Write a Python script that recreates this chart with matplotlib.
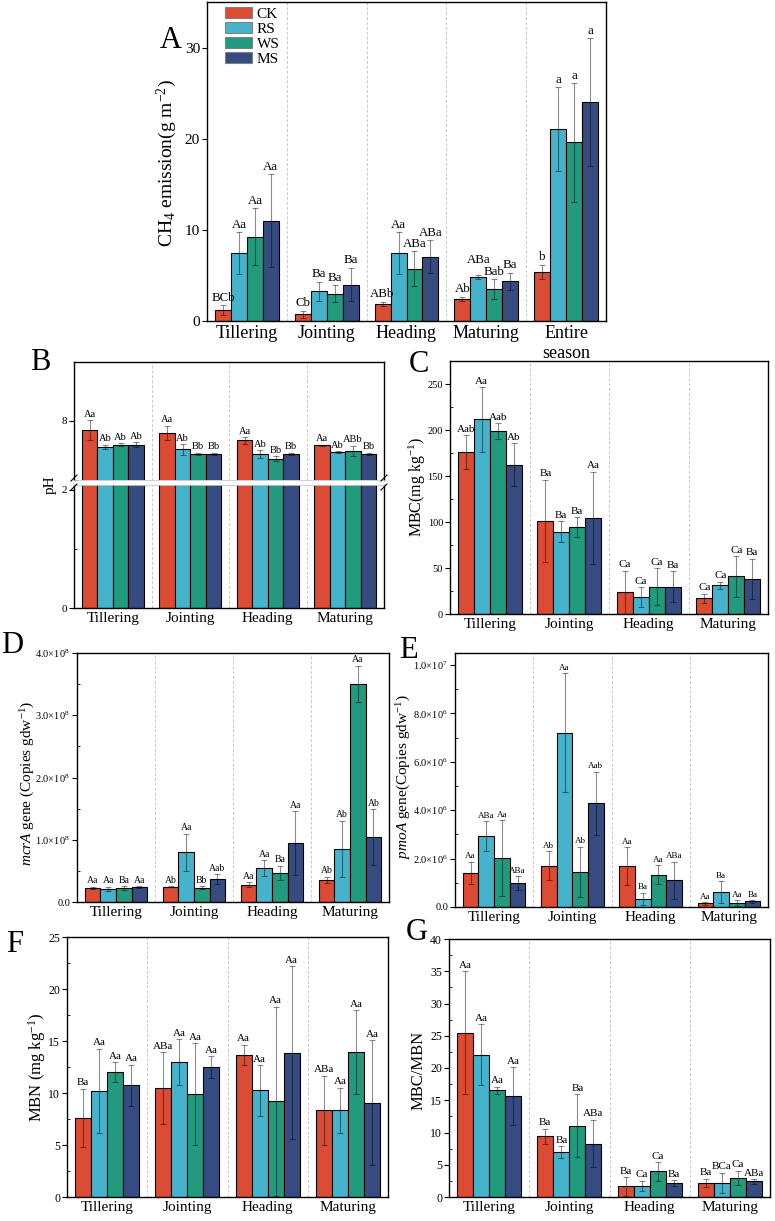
import numpy as np
import matplotlib
matplotlib.use('Agg')
import matplotlib.pyplot as plt
from matplotlib.ticker import FixedLocator, MultipleLocator, FuncFormatter
from matplotlib.patches import Patch

plt.rcParams['font.family'] = ['Liberation Serif', 'DejaVu Serif']
plt.rcParams['mathtext.fontset'] = 'custom'
plt.rcParams['mathtext.rm'] = 'Liberation Serif'
plt.rcParams['mathtext.it'] = 'Liberation Serif:italic'
plt.rcParams['mathtext.bf'] = 'Liberation Serif:bold'

# ---------------- data ----------------
treatments = ['CK', 'RS', 'WS', 'MS']
colors = ['#DC4B33', '#45B3CC', '#219A7E', '#364C80']
stages = ['Tillering', 'Jointing', 'Heading', 'Maturing']
stages_a = stages + ['Entire\nseason']

ch4_mean = [[1.17, 7.45, 9.27, 11.0], [0.73, 3.25, 3.0, 4.0], [1.9, 7.45, 5.73, 7.04],
            [2.41, 4.85, 3.5, 4.34], [5.4, 21.06, 19.6, 24.0]]
ch4_err = [[0.55, 2.3, 3.1, 5.1], [0.38, 1.05, 0.9, 1.85], [0.2, 2.3, 1.9, 1.8],
           [0.24, 0.23, 1.08, 0.95], [0.76, 4.6, 6.5, 7.0]]
ch4_sig = [['BCb', 'Aa', 'Aa', 'Aa'], ['Cb', 'Ba', 'Ba', 'Ba'], ['ABb', 'Aa', 'ABa', 'ABa'],
           ['Ab', 'ABa', 'Bab', 'Ba'], ['b', 'a', 'a', 'a']]

ph_mean = [[7.84, 7.56, 7.60, 7.60], [7.80, 7.52, 7.44, 7.44], [7.67, 7.44, 7.36, 7.44],
           [7.59, 7.47, 7.49, 7.44]]
ph_err = [[0.17, 0.04, 0.02, 0.04], [0.12, 0.09, 0.02, 0.02], [0.06, 0.07, 0.04, 0.02],
          [0.01, 0.02, 0.09, 0.02]]
ph_sig = [['Aa', 'Ab', 'Ab', 'Ab'], ['Aa', 'Ab', 'Bb', 'Bb'], ['Aa', 'Ab', 'Bb', 'Bb'],
          ['Aa', 'Ab', 'ABb', 'Bb']]

mbc_mean = [[175.6, 211.6, 198.7, 162.3], [101.1, 89.6, 94.3, 104.7], [23.7, 18.3, 29.8, 29.8],
            [16.9, 31.3, 41.0, 38.1]]
mbc_err = [[18.5, 35.0, 9.0, 23.6], [45.0, 11.3, 10.7, 50.0], [23.5, 11.0, 20.0, 17.0],
           [5.0, 4.0, 22.0, 22.0]]
mbc_sig = [['Aab', 'Aa', 'Aab', 'Ab'], ['Ba', 'Ba', 'Ba', 'Aa'], ['Ca', 'Ca', 'Ca', 'Ba'],
           ['Ca', 'Ca', 'Ca', 'Ba']]

mcra_mean = [[2.26e7, 2.10e7, 2.26e7, 2.42e7], [2.47e7, 7.97e7, 2.26e7, 3.70e7],
             [2.79e7, 5.40e7, 4.66e7, 9.47e7], [3.54e7, 8.56e7, 3.505e8, 1.043e8]]
mcra_err = [[0.2e7, 0.35e7, 0.3e7, 0.1e7], [0.05e7, 3.0e7, 0.25e7, 0.8e7],
            [0.4e7, 1.3e7, 1.2e7, 5.1e7], [0.55e7, 4.5e7, 2.9e7, 4.5e7]]
mcra_sig = [['Aa', 'Aa', 'Ba', 'Aa'], ['Ab', 'Aa', 'Bb', 'Aab'], ['Aa', 'Aa', 'Ba', 'Aa'],
            ['Ab', 'Ab', 'Aa', 'Ab']]

pmoa_mean = [[1.41e6, 2.93e6, 2.02e6, 1.00e6], [1.70e6, 7.20e6, 1.45e6, 4.28e6],
             [1.70e6, 0.33e6, 1.33e6, 1.10e6], [0.15e6, 0.62e6, 0.15e6, 0.23e6]]
pmoa_err = [[0.47e6, 0.61e6, 1.56e6, 0.28e6], [0.60e6, 2.46e6, 1.05e6, 1.32e6],
            [0.77e6, 0.26e6, 0.39e6, 0.77e6], [0.05e6, 0.44e6, 0.12e6, 0.05e6]]
pmoa_sig = [['Aa', 'ABa', 'Aa', 'ABa'], ['Ab', 'Aa', 'Ab', 'Aab'], ['Aa', 'Ba', 'Aa', 'ABa'],
            ['Aa', 'Ba', 'Aa', 'Ba']]

mbn_mean = [[7.62, 10.22, 12.02, 10.76], [10.48, 12.95, 9.9, 12.47], [13.69, 10.25, 9.19, 13.88],
            [8.32, 8.32, 13.91, 9.06]]
mbn_err = [[2.8, 4.05, 0.95, 1.97], [3.45, 2.2, 4.9, 1.05], [0.97, 2.45, 9.1, 8.3],
           [3.35, 2.2, 4.05, 6.0]]
mbn_sig = [['Ba', 'Aa', 'Aa', 'Aa'], ['ABa', 'Aa', 'Aa', 'Aa'], ['Aa', 'Aa', 'Aa', 'Aa'],
           ['ABa', 'Aa', 'Aa', 'Aa']]

ratio_mean = [[25.5, 22.05, 16.56, 15.63], [9.42, 6.94, 11.08, 8.28], [1.66, 1.76, 3.99, 2.12],
              [2.17, 2.23, 2.95, 2.43]]
ratio_err = [[9.5, 4.7, 0.55, 4.45], [1.2, 0.93, 4.86, 3.68], [1.45, 0.78, 1.45, 0.47],
             [0.68, 1.55, 1.14, 0.37]]
ratio_sig = [['Aa', 'Aa', 'Aa', 'Aa'], ['Ba', 'Ba', 'Ba', 'ABa'], ['Ba', 'Ca', 'Ca', 'Ba'],
             ['Ba', 'BCa', 'Ca', 'ABa']]

# ---------------- layout helpers ----------------
W, H = 775, 1221
fig = plt.figure(figsize=(W / 100, H / 100), dpi=100)


def add_ax(l, r, t, b):
    return fig.add_axes([l / W, 1 - b / H, (r - l) / W, (b - t) / H])


def ftext(x, y, s, **kw):
    fig.text(x / W, 1 - y / H, s, **kw)


BW = 0.2
OFFS = (np.arange(4) - 1.5) * BW
ECOL = (0, 0, 0, 0.45)


def style(ax, n, xlabels, xfs=11, yfs=8):
    ax.set_xlim(-0.5, n - 0.5)
    ax.set_xticks(np.arange(n))
    ax.set_xticklabels(xlabels)
    ax.tick_params(axis='x', length=0, labelsize=xfs, pad=3)
    ax.tick_params(axis='y', which='major', direction='out', length=3.5, width=0.8,
                   labelsize=yfs, pad=1.5)
    ax.tick_params(axis='y', which='minor', direction='in', length=2.5, width=0.6)
    for sp in ax.spines.values():
        sp.set_linewidth(1.0)
    for k in range(n - 1):
        ax.axvline(k + 0.5, color='#c8c8c8', ls=(0, (3, 2)), lw=0.7, zorder=1)


def draw(ax, mean, err, sig, sfs, labels=True, errs=True, lift=None):
    lift = lift or {}
    mean = np.asarray(mean, dtype=float)
    err = np.asarray(err, dtype=float)
    n = mean.shape[0]
    x = np.arange(n)
    for j in range(4):
        ax.bar(x + OFFS[j], mean[:, j], width=BW, color=colors[j], edgecolor='black',
               linewidth=0.8, zorder=2)
        if errs:
            ax.errorbar(x + OFFS[j], mean[:, j], yerr=err[:, j], fmt='none', ecolor=ECOL,
                        elinewidth=0.8, capsize=2.2, capthick=0.8, zorder=3)
        if labels:
            for i in range(n):
                ax.annotate(sig[i][j], (x[i] + OFFS[j], mean[i, j] + err[i, j]),
                            xytext=(0, 1 + lift.get((i, j), 0)), textcoords='offset points',
                            ha='center', va='bottom', fontsize=sfs, zorder=4)


def sci_fmt(val, pos):
    if val == 0:
        return '0.0'
    e = int(np.floor(np.log10(abs(val)) + 1e-9))
    m = val / 10 ** e
    return f'{m:.1f}×10$^{{{e}}}$'


# ---------------- Panel A ----------------
axA = add_ax(207, 606, 2, 321)
draw(axA, ch4_mean, ch4_err, ch4_sig, 9.3, lift={(3, 1): 5})
style(axA, 5, stages_a, xfs=13, yfs=11)
axA.set_ylim(0, 35)
axA.yaxis.set_major_locator(FixedLocator([0, 10, 20, 30]))
handles = [Patch(facecolor=c, edgecolor='gray', linewidth=0.8) for c in colors]
axA.legend(handles, treatments, loc='upper left', bbox_to_anchor=(0.044, 0.985), frameon=False,
           fontsize=11, handlelength=1.8, handleheight=0.8, labelspacing=0.05,
           handletextpad=0.3, borderpad=0, borderaxespad=0)
ftext(167, 163, 'CH$_4$ emission(g m$^{-2}$)', rotation=90, ha='center', va='center', fontsize=14)
ftext(160, 48, 'A', fontsize=22)

# ---------------- Panel B (broken axis) ----------------
axBu = add_ax(74, 384, 362, 480)
axBl = add_ax(74, 384, 485, 608)
draw(axBu, ph_mean, ph_err, ph_sig, 7.5)
draw(axBl, ph_mean, ph_err, ph_sig, 7.5, labels=False, errs=False)
style(axBu, 4, stages, yfs=8)
style(axBl, 4, stages, yfs=8)
axBu.set_ylim(7, 9)
axBl.set_ylim(0, 2.08)
axBu.yaxis.set_major_locator(FixedLocator([8]))
axBu.yaxis.set_minor_locator(FixedLocator([7, 9]))
axBl.yaxis.set_major_locator(FixedLocator([0, 2]))
axBl.yaxis.set_minor_locator(FixedLocator([1]))
axBu.set_xticklabels([])
axBu.spines['bottom'].set_color('#c8c8c8')
axBu.spines['bottom'].set_linewidth(0.6)
axBl.spines['top'].set_color('#c8c8c8')
axBl.spines['top'].set_linewidth(0.6)
for xx in (74, 384):
    for yy in (478, 487):
        fig.add_artist(plt.Line2D([(xx - 3) / W, (xx + 3) / W], [1 - (yy + 3) / H, 1 - (yy - 3) / H],
                                  color='black', lw=0.8))
ftext(50, 485, 'pH', rotation=90, ha='center', va='center', fontsize=11)
ftext(30, 370, 'B', fontsize=22)

# ---------------- Panel C ----------------
axC = add_ax(450, 768, 361, 614)
draw(axC, mbc_mean, mbc_err, mbc_sig, 8)
style(axC, 4, stages, yfs=7.5)
axC.set_ylim(0, 275)
axC.yaxis.set_major_locator(MultipleLocator(50))
axC.yaxis.set_minor_locator(MultipleLocator(25))
ftext(417, 487, 'MBC(mg kg$^{-1}$)', rotation=90, ha='center', va='center', fontsize=11.5)
ftext(409, 372, 'C', fontsize=22)

# ---------------- Panel D ----------------
axD = add_ax(77, 389, 653, 902)
draw(axD, mcra_mean, mcra_err, mcra_sig, 7)
style(axD, 4, stages, yfs=7.5)
axD.set_ylim(0, 4e8)
axD.yaxis.set_major_locator(MultipleLocator(1e8))
axD.yaxis.set_minor_locator(MultipleLocator(0.5e8))
axD.yaxis.set_major_formatter(FuncFormatter(sci_fmt))
ftext(28, 783, r'$\it{mcrA}$ gene (Copies gdw$^{-1}$)', rotation=90, ha='center', va='center',
      fontsize=11)
ftext(1, 653, 'D', fontsize=22)

# ---------------- Panel E ----------------
axE = add_ax(455, 768, 653, 907)
draw(axE, pmoa_mean, pmoa_err, pmoa_sig, 6.5)
style(axE, 4, stages, yfs=7.5)
axE.set_ylim(0, 1.05e7)
axE.yaxis.set_major_locator(MultipleLocator(2e6))
axE.yaxis.set_minor_locator(MultipleLocator(1e6))
axE.yaxis.set_major_formatter(FuncFormatter(sci_fmt))
ftext(404, 777, r'$\it{pmoA}$ gene(Copies gdw$^{-1}$)', rotation=90, ha='center', va='center',
      fontsize=11)
ftext(399, 658, 'E', fontsize=22)

# ---------------- Panel F ----------------
axF = add_ax(67, 388, 937, 1197)
draw(axF, mbn_mean, mbn_err, mbn_sig, 8)
style(axF, 4, stages, yfs=8.5)
axF.set_ylim(0, 25)
axF.yaxis.set_major_locator(MultipleLocator(5))
axF.yaxis.set_minor_locator(MultipleLocator(2.5))
ftext(37, 1067, 'MBN (mg kg$^{-1}$)', rotation=90, ha='center', va='center', fontsize=12)
ftext(6, 952, 'F', fontsize=22)

# ---------------- Panel G ----------------
axG = add_ax(449, 770, 939, 1197)
draw(axG, ratio_mean, ratio_err, ratio_sig, 8)
style(axG, 4, stages, yfs=8.5)
axG.set_ylim(0, 40)
axG.yaxis.set_major_locator(MultipleLocator(5))
axG.yaxis.set_minor_locator(MultipleLocator(2.5))
ftext(419, 1070, 'MBC/MBN', rotation=90, ha='center', va='center', fontsize=12)
ftext(406, 940, 'G', fontsize=22)

fig.savefig('out.png', dpi=100)
